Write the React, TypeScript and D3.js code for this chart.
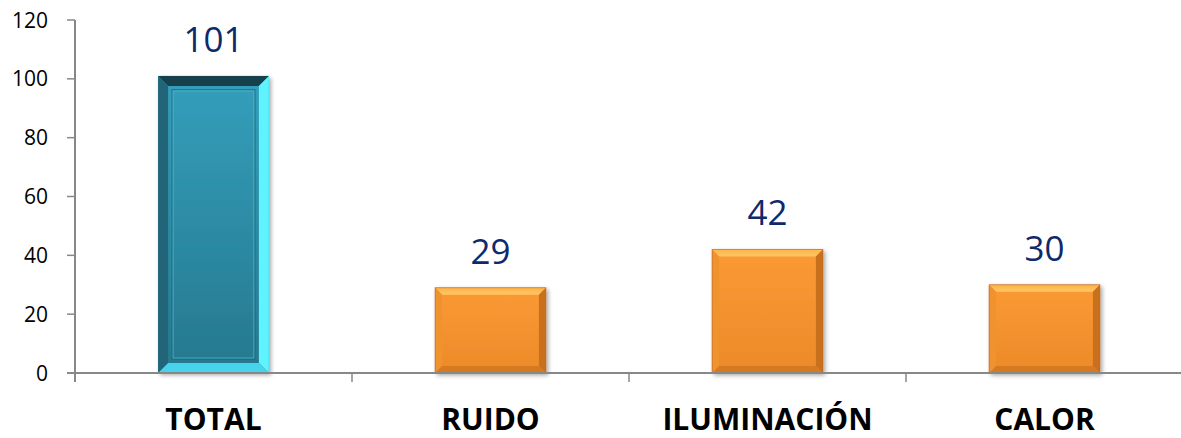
import React from "react";
import * as d3 from "d3";

const categories = ["TOTAL", "RUIDO", "ILUMINACIÓN", "CALOR"];
const values = [101, 29, 42, 30];
const yTicks = [0, 20, 40, 60, 80, 100, 120];

const W = 1181;
const H = 438;
const M = { left: 75, right: -2, top: 20, bottom: 65 };

export default function App() {
  const x = d3
    .scaleBand<string>()
    .domain(categories)
    .range([M.left, W - M.right])
    .paddingInner(0.6)
    .paddingOuter(0.3);
  const step = x.step();
  const y = d3.scaleLinear().domain([0, 120]).range([H - M.bottom, M.top]);
  const y0 = y(0);

  const tickXs = categories.map((c) => (x(c) as number) - (step * 0.6) / 2);

  return (
    <svg
      width={W}
      height={H}
      style={{ position: "absolute", left: 0, top: 0, background: "#fff" }}
    >
      <defs>
        <linearGradient id="tealFill" x1="0" y1="0" x2="0" y2="1">
          <stop offset="0" stopColor="#349fbc" />
          <stop offset="1" stopColor="#26788e" />
        </linearGradient>
        <linearGradient id="orangeFill" x1="0" y1="0" x2="0" y2="1">
          <stop offset="0" stopColor="#fb9a34" />
          <stop offset="1" stopColor="#ec8a2a" />
        </linearGradient>
        <linearGradient id="orangeTop" x1="0" y1="0" x2="0" y2="1">
          <stop offset="0" stopColor="#ffb347" />
          <stop offset="1" stopColor="#ffc766" />
        </linearGradient>
        <filter id="shadow" x="-20%" y="-20%" width="140%" height="140%">
          <feDropShadow dx="2" dy="2" stdDeviation="2" floodColor="#000" floodOpacity="0.35" />
        </filter>
      </defs>

      {/* Y axis */}
      <line x1={M.left} x2={M.left} y1={y(120)} y2={y0 + 9} stroke="#888" strokeWidth={2} />
      {yTicks.map((t) => (
        <g key={t}>
          <line x1={M.left - 8} x2={M.left} y1={y(t)} y2={y(t)} stroke="#888" strokeWidth={1.5} />
          <text
            x={M.left - 27}
            y={y(t)}
            dy="0.36em"
            textAnchor="end"
            fontFamily="'Open Sans', 'Liberation Sans', sans-serif"
            fontSize={21}
            fill="#000"
          >
            {t}
          </text>
        </g>
      ))}

      {/* Bars */}
      {categories.map((c, i) => {
        const bx = x(c) as number;
        const bw = x.bandwidth();
        const by = y(values[i]);
        const bh = y0 - by;
        const isTotal = i === 0;
        const b = isTotal ? 10 : 7;
        const x2 = bx + bw;
        const yb = y0;
        if (isTotal) {
          return (
            <g key={c} filter="url(#shadow)">
              <rect x={bx} y={by} width={bw} height={bh} fill="url(#tealFill)" />
              <polygon points={`${bx},${by} ${x2},${by} ${x2 - b},${by + b} ${bx + b},${by + b}`} fill="#163f4c" />
              <polygon points={`${bx},${by} ${bx + b},${by + b} ${bx + b},${yb - b} ${bx},${yb}`} fill="#236579" />
              <polygon points={`${x2},${by} ${x2 - b},${by + b} ${x2 - b},${yb - b} ${x2},${yb}`} fill="#5ff2ff" />
              <polygon points={`${bx},${yb} ${bx + b},${yb - b} ${x2 - b},${yb - b} ${x2},${yb}`} fill="#47d3ec" />
              <rect
                x={bx + b + 4}
                y={by + b + 4}
                width={bw - 2 * b - 8}
                height={bh - 2 * b - 8}
                fill="none"
                stroke="#1f6577"
                strokeWidth={1}
              />
              <rect
                x={bx + b + 5}
                y={by + b + 5}
                width={bw - 2 * b - 10}
                height={bh - 2 * b - 10}
                fill="none"
                stroke="#4cc3db"
                strokeWidth={1}
                opacity={0.7}
              />
            </g>
          );
        }
        return (
          <g key={c} filter="url(#shadow)">
            <rect x={bx} y={by} width={bw} height={bh} fill="url(#orangeFill)" />
            <polygon points={`${bx},${by} ${x2},${by} ${x2 - b},${by + b} ${bx + b},${by + b}`} fill="url(#orangeTop)" />
            <polygon points={`${bx},${by} ${bx + b},${by + b} ${bx + b},${yb - b} ${bx},${yb}`} fill="#f0922e" />
            <polygon points={`${x2},${by} ${x2 - b},${by + b} ${x2 - b},${yb - b} ${x2},${yb}`} fill="#c9701f" />
            <polygon points={`${bx},${yb} ${bx + b},${yb - b} ${x2 - b},${yb - b} ${x2},${yb}`} fill="#d57a24" />
            <rect x={bx} y={by} width={bw} height={bh} fill="none" stroke="#b8621c" strokeWidth={1} opacity={0.6} />
          </g>
        );
      })}

      {/* X axis */}
      <line x1={M.left - 8} x2={W} y1={y0} y2={y0} stroke="#888" strokeWidth={2} />
      {tickXs.slice(1).map((tx, i) => (
        <line key={i} x1={tx} x2={tx} y1={y0} y2={y0 + 9} stroke="#888" strokeWidth={1.5} />
      ))}

      {/* Value labels */}
      {categories.map((c, i) => (
        <text
          key={c}
          x={(x(c) as number) + x.bandwidth() / 2}
          y={y(values[i]) - 24}
          textAnchor="middle"
          fontFamily="'Open Sans', 'Liberation Sans', sans-serif"
          fontSize={35}
          fill="#0f2a6b"
        >
          {values[i]}
        </text>
      ))}

      {/* Category labels */}
      {categories.map((c) => (
        <text
          key={c}
          x={(x(c) as number) + x.bandwidth() / 2}
          y={430}
          textAnchor="middle"
          fontFamily="'Open Sans', 'Liberation Sans', sans-serif"
          fontWeight="bold"
          fontSize={30}
          fill="#000"
        >
          {c}
        </text>
      ))}
    </svg>
  );
}
